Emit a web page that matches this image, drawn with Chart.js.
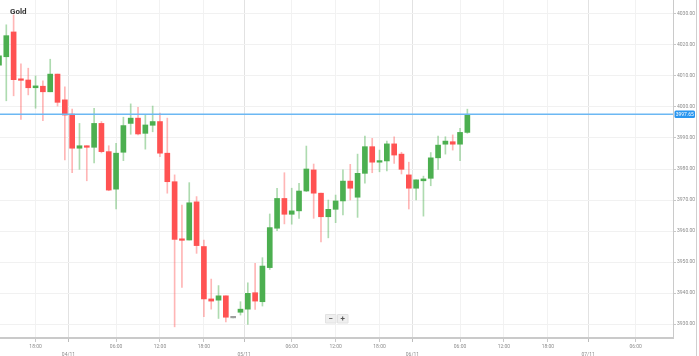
<!DOCTYPE html>
<html><head><meta charset="utf-8">
<script src="https://cdn.jsdelivr.net/npm/chart.js@4/dist/chart.umd.min.js"></script>
<style>html,body{margin:0;padding:0;background:#fff;}#wrap{width:699px;height:356px;}</style>
</head><body><div id="wrap"><canvas id="c" width="699" height="356"></canvas></div>
<script>
const chartTitle = 'Gold';
const candleIdx = Array.from({length: 65}, (_, i) => i);
const opens  = [4013.5,4016.2,4024.2,4008.9,4008.7,4006.2,4006.7,4004.9,4010.6,4002.3,3997.7,3986.7,3987.5,3987.0,3994.7,3985.6,3973.5,3985.4,3994.7,3996.4,3991.5,3994.1,3995.3,3985.1,3975.9,3957.3,3957.1,3969.4,3955.0,3938.1,3937.7,3939.1,3932.0,3933.8,3934.8,3940.1,3937.2,3948.2,3960.9,3970.5,3965.4,3966.5,3972.9,3979.7,3972.2,3964.6,3967.0,3969.7,3976.1,3970.9,3978.6,3987.2,3982.2,3982.6,3988.1,3984.8,3978.1,3973.8,3976.2,3977.0,3983.6,3988.0,3988.8,3988.0,3991.8];
const highs  = [4017.5,4026.5,4029.7,4013.9,4012.5,4010.0,4008.4,4015.4,4010.6,4006.5,3999.3,3994.7,3987.5,3999.6,3995.3,3987.5,3988.3,3996.7,4001.0,3999.9,3997.6,4000.3,3998.0,3996.4,3978.1,3968.4,3975.6,3971.1,3957.1,3944.5,3942.4,3939.1,3932.0,3937.2,3943.3,3949.6,3951.4,3965.5,3973.8,3978.8,3973.8,3975.4,3987.4,3981.6,3972.2,3970.0,3971.6,3979.7,3981.5,3984.8,3990.6,3989.9,3986.1,3989.0,3990.4,3985.4,3982.2,3976.5,3977.7,3985.3,3990.6,3990.4,3991.0,3993.1,3999.3];
const lows   = [4012.0,4002.0,4003.6,3996.0,4003.9,3999.6,3995.6,4004.9,4000.3,3982.9,3978.8,3979.9,3976.2,3982.0,3985.2,3973.0,3967.1,3982.7,3991.2,3991.0,3986.4,3992.0,3984.0,3972.2,3929.1,3941.8,3957.1,3952.8,3932.4,3934.8,3931.8,3930.7,3932.0,3932.9,3929.9,3934.7,3935.8,3947.6,3960.1,3962.3,3962.2,3964.1,3972.7,3964.1,3956.5,3957.8,3962.7,3965.2,3970.0,3964.4,3975.4,3978.8,3979.1,3979.4,3981.8,3978.4,3967.1,3970.0,3964.8,3974.6,3979.9,3984.8,3986.1,3982.7,3991.5];
const closes = [4016.5,4023.0,4008.8,4008.6,4006.2,4006.8,4004.9,4010.6,4001.5,3997.4,3986.7,3987.5,3987.0,3994.7,3985.6,3973.2,3985.1,3994.0,3996.4,3991.3,3994.2,3995.3,3985.1,3975.9,3957.3,3957.0,3969.1,3955.3,3938.1,3937.4,3939.1,3932.2,3932.0,3934.8,3939.9,3937.4,3948.7,3961.1,3970.5,3965.4,3966.5,3972.9,3980.0,3972.2,3964.6,3967.0,3969.7,3976.1,3973.8,3978.6,3987.2,3982.2,3982.7,3988.1,3984.5,3979.9,3973.8,3976.5,3976.8,3983.6,3987.7,3989.0,3988.0,3991.8,3997.65];
const lastPrice = 3997.65;
const xTickIdx    = [5, 9.5, 16, 22, 28, 33.5, 40, 46, 52, 56.5, 63, 69, 75, 80.5, 87];
const xTickLabels = ['18:00','04/11','06:00','12:00','18:00','05/11','06:00','12:00','18:00','06/11','06:00','12:00','18:00','07/11','06:00'];
const yTicks = [3930, 3940, 3950, 3960, 3970, 3980, 3990, 4000, 4010, 4020, 4030];

const UP = '#4caf50', DOWN = '#ff5252', FLAT = '#9e9e9e';
const UP_W = 'rgba(76,175,80,0.45)', DOWN_W = 'rgba(255,82,82,0.42)';
const dir = i => closes[i] > opens[i] ? 1 : (closes[i] < opens[i] ? -1 : 0);
const isDate = v => { const k = xTickIdx.indexOf(v); return k >= 0 && xTickLabels[k].includes('/'); };

const overlay = {
  id: 'overlay',
  afterDatasetsDraw(chart) {
    const {ctx, chartArea: a, scales: {y}} = chart;
    const py = y.getPixelForValue(lastPrice);
    ctx.save();
    ctx.strokeStyle = '#6cb8f3';
    ctx.lineWidth = 1.5;
    ctx.beginPath(); ctx.moveTo(a.left, py); ctx.lineTo(a.right, py); ctx.stroke();
    ctx.restore();
  },
  afterDraw(chart) {
    const {ctx, chartArea: a, scales: {y}} = chart;
    ctx.save();
    ctx.fillStyle = '#333';
    ctx.font = 'bold 8px Roboto, "DejaVu Sans", sans-serif';
    ctx.textBaseline = 'alphabetic';
    ctx.fillText(chartTitle, 10, 14);
    const py = y.getPixelForValue(lastPrice);
    ctx.fillStyle = '#2a96ef';
    ctx.beginPath();
    if (ctx.roundRect) ctx.roundRect(a.right + 1.5, py - 3.7, 20.5, 7.5, 1.5); else ctx.rect(a.right + 1.5, py - 3.7, 20.5, 7.5);
    ctx.fill();
    ctx.fillStyle = '#fff';
    ctx.font = '5px Roboto, sans-serif';
    ctx.textBaseline = 'middle';
    ctx.textAlign = 'center';
    ctx.fillText(lastPrice.toFixed(2), a.right + 11.75, py + 0.1);
    const bx = [325.5, 337.5];
    const sym = ['\u2212', '+'];
    bx.forEach((x, k) => {
      ctx.fillStyle = '#efefef';
      ctx.strokeStyle = '#e2e2e2';
      ctx.lineWidth = 1;
      ctx.beginPath();
      ctx.rect(x, 314.5, 10.5, 8.5);
      ctx.fill(); ctx.stroke();
      ctx.fillStyle = '#555';
      ctx.font = 'bold 8px Roboto, sans-serif';
      ctx.textAlign = 'center';
      ctx.textBaseline = 'middle';
      ctx.fillText(sym[k], x + 5.25, 318.8);
    });
    ctx.strokeStyle = '#cfcfcf';
    ctx.lineWidth = 1;
    ctx.beginPath(); ctx.moveTo(696.5, 0); ctx.lineTo(696.5, 356); ctx.stroke();
    ctx.restore();
  }
};

new Chart(document.getElementById('c'), {
  type: 'bar',
  data: {
    datasets: [
      {
        label: 'body',
        order: 0,
        grouped: false,
        data: candleIdx.map(i => ({x: i, y: [opens[i], closes[i]]})),
        backgroundColor: candleIdx.map(i => dir(i) > 0 ? UP : dir(i) < 0 ? DOWN : FLAT),
        barThickness: 5,
        minBarLength: 1.5,
        borderWidth: 0
      },
      {
        label: 'wick',
        order: 1,
        grouped: false,
        data: candleIdx.map(i => ({x: i, y: [lows[i], highs[i]]})),
        backgroundColor: candleIdx.map(i => dir(i) >= 0 ? UP_W : DOWN_W),
        barThickness: 1,
        borderWidth: 0
      }
    ]
  },
  options: {
    responsive: false,
    animation: false,
    devicePixelRatio: 1,
    layout: {padding: 0},
    plugins: {legend: {display: false}, tooltip: {enabled: false}, title: {display: false}},
    scales: {
      x: {
        type: 'linear',
        min: 0.14,
        max: 92.1,
        offset: false,
        afterBuildTicks: s => { s.ticks = xTickIdx.map(v => ({value: v})); },
        afterFit: s => { s.height = 18; s.paddingLeft = 0; s.paddingRight = 0; },
        grid: {
          offset: false,
          color: c => (c.tick && isDate(c.tick.value)) ? '#e2e2e2' : '#f2f2f2',
          tickColor: c => (c.tick && isDate(c.tick.value)) ? '#bdbdbd' : '#c8c8c8',
          tickLength: 4,
          lineWidth: 1
        },
        border: {color: '#cacaca', width: 2},
        ticks: {
          autoSkip: false,
          maxRotation: 0,
          padding: 1,
          color: '#8c8c8c',
          font: {size: 5, family: 'Roboto, sans-serif', lineHeight: 1.5},
          callback: (v, idx) => {
            const l = xTickLabels[idx];
            return l.includes('/') ? ['', l] : l;
          }
        }
      },
      y: {
        type: 'linear',
        position: 'right',
        min: 3925.5,
        max: 4034.5,
        afterBuildTicks: s => { s.ticks = yTicks.map(v => ({value: v})); },
        afterFit: s => { s.width = 26; s.paddingTop = 0; s.paddingBottom = 0; },
        grid: {color: '#f1f1f1', tickColor: '#c8c8c8', tickLength: 3, lineWidth: 1},
        border: {color: '#cacaca', width: 1},
        ticks: {
          padding: 1,
          color: '#8c8c8c',
          font: {size: 5, family: 'Roboto, sans-serif'},
          callback: v => Number(v).toFixed(2)
        }
      }
    }
  },
  plugins: [overlay]
});
</script></body></html>
